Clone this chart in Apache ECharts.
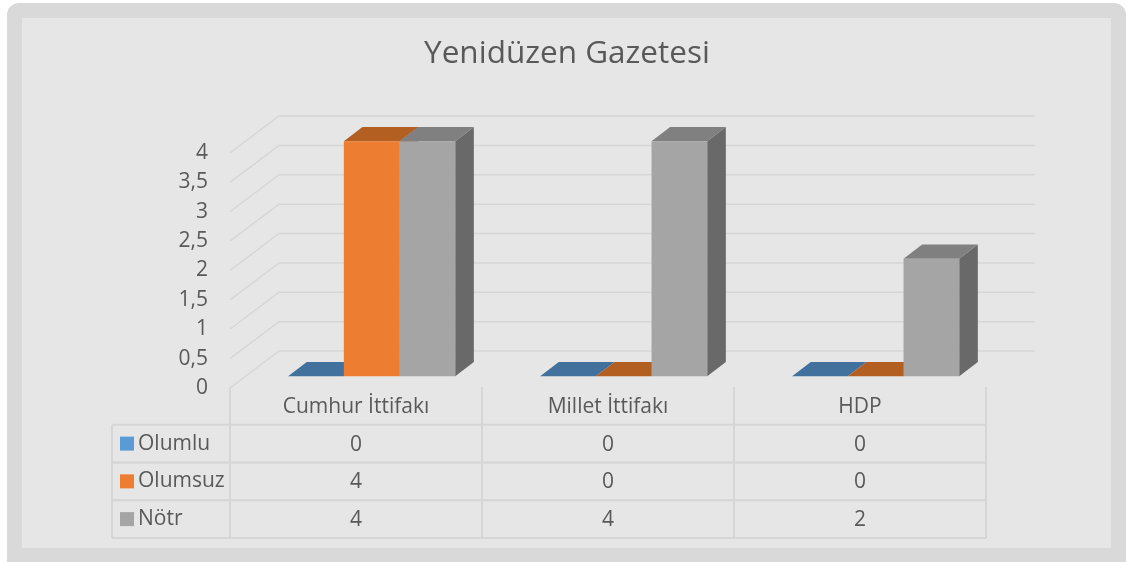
<!DOCTYPE html>
<html>
<head>
<meta charset="utf-8">
<script src="https://cdn.jsdelivr.net/npm/echarts@6/dist/echarts.min.js"></script>
<style>
    html, body { margin: 0; padding: 0; background: #fff; }
    #chart { width: 1127px; height: 562px; }
</style>
</head>
<body>
<div id="chart"></div>
<script>
// data
const categories = ['Cumhur İttifakı', 'Millet İttifakı', 'HDP']
const seriesNames = ['Olumlu', 'Olumsuz', 'Nötr']
const olumlu = [0, 0, 0]
const olumsuz = [4, 0, 0]
const notr = [4, 4, 2]
const yTicks = [0, 0.5, 1, 1.5, 2, 2.5, 3, 3.5, 4]

const seriesValues = [olumlu, olumsuz, notr]
const frontColors = ['#5b9bd5', '#ed7d31', '#a5a5a5']
const topColors = ['#41719c', '#b45f22', '#808080']
const sideColors = ['#3f6f99', '#a95a20', '#696969']

const FONT = '"Open Sans", sans-serif'
const FS = 21
const TEXT = '#595959'
const LINE = '#d6d6d6'
const DEPTH = [49, -37]          // floor depth, front -> back wall
const BAR_FRONT = 0.32           // bars sit in the middle of the depth
const BAR_BACK = 0.70
const BAR_RATIO = 0.221          // bar width / category band
const LEGEND_W = 118             // width of the legend column in the table

// 3d bars, drawn category by category so the right bar hides the left one's side
const barData = []
categories.forEach((c, ci) => {
    seriesValues.forEach((vals, si) => {
        barData.push([ci, si, vals[ci]])
    })
})

const tableData = []
for (let r = 0; r <= seriesNames.length; r++) {
    for (let c = 0; c < categories.length; c++) {
        tableData.push([c, r])
    }
}

function renderBar (params, api) {
    const ci = api.value(0)
    const si = api.value(1)
    const v = api.value(2)
    const base = api.coord([ci, 0])
    const top = api.coord([ci, v])
    const w = api.size([1, 0])[0] * BAR_RATIO
    const ox = DEPTH[0] * BAR_FRONT
    const oy = DEPTH[1] * BAR_FRONT
    const dx = DEPTH[0] * (BAR_BACK - BAR_FRONT)
    const dy = DEPTH[1] * (BAR_BACK - BAR_FRONT)
    const x0 = base[0] - 1.5 * w + si * w + ox
    const x1 = x0 + w
    const yb = base[1] + oy
    const yt = top[1] + oy
    return {
        type: 'group',
        children: [
            {
                type: 'polygon',
                shape: { points: [[x1, yt], [x1 + dx, yt + dy], [x1 + dx, yb + dy], [x1, yb]] },
                style: { fill: sideColors[si] }
            },
            {
                type: 'polygon',
                shape: { points: [[x0, yt], [x0 + dx, yt + dy], [x1 + dx, yt + dy], [x1, yt]] },
                style: { fill: topColors[si] }
            },
            {
                type: 'rect',
                shape: { x: x0, y: yt, width: w, height: yb - yt },
                style: { fill: frontColors[si] }
            }
        ]
    }
}

function renderGridLine (params, api) {
    const cs = params.coordSys
    const y = api.coord([0, api.value(1)])[1]
    return {
        type: 'polyline',
        shape: {
            points: [[cs.x, y], [cs.x + DEPTH[0], y + DEPTH[1]], [cs.x + cs.width + DEPTH[0], y + DEPTH[1]]]
        },
        style: { stroke: LINE, lineWidth: 1.5, fill: null }
    }
}

function renderCell (params, api) {
    const c = api.value(0)
    const r = api.value(1)
    const center = api.coord([c, r])
    const size = api.size([1, 1])
    const l = center[0] - size[0] / 2
    const rr = center[0] + size[0] / 2
    const t = center[1] - size[1] / 2
    const b = center[1] + size[1] / 2
    const txt = r === 0 ? categories[c] : String(seriesValues[r - 1][c])
    const lineStyle = { stroke: LINE, lineWidth: 2 }
    const children = [
        { type: 'line', shape: { x1: l, y1: t, x2: l, y2: b }, style: lineStyle },
        { type: 'line', shape: { x1: rr, y1: t, x2: rr, y2: b }, style: lineStyle },
        {
            type: 'text',
            style: {
                x: center[0], y: center[1] + 1, text: txt,
                align: 'center', verticalAlign: 'middle',
                fill: TEXT, font: FS + 'px ' + FONT
            }
        }
    ]
    if (r > 0) {
        const xs = c === 0 ? l - LEGEND_W : l
        children.push({ type: 'line', shape: { x1: xs, y1: t, x2: rr, y2: t }, style: lineStyle })
        children.push({ type: 'line', shape: { x1: xs, y1: b, x2: rr, y2: b }, style: lineStyle })
        if (c === 0) {
            children.push({ type: 'line', shape: { x1: xs, y1: t, x2: xs, y2: b }, style: lineStyle })
        }
    }
    return { type: 'group', children: children }
}

const chart = echarts.init(document.getElementById('chart'))
chart.setOption({
    animation: false,
    textStyle: { fontFamily: FONT },
    graphic: [
        {
            type: 'rect', z: -10,
            shape: { x: 7, y: 3, width: 1119, height: 580, r: 12 },
            style: { fill: '#d9d9d9' }
        },
        {
            type: 'rect', z: -9,
            shape: { x: 22, y: 18, width: 1089, height: 530 },
            style: { fill: '#e6e6e6' }
        }
    ],
    title: {
        text: 'Yenidüzen Gazetesi',
        left: 562,
        top: 33,
        textAlign: 'center',
        textStyle: { fontSize: 31.5, fontWeight: 'normal', color: TEXT, fontFamily: FONT }
    },
    grid: [
        { left: 230, right: 141, top: 153, bottom: 174 },
        { left: 230, right: 141, top: 387, bottom: 24 }
    ],
    xAxis: [
        {
            type: 'category', gridIndex: 0, data: categories,
            axisLine: { show: false }, axisTick: { show: false },
            axisLabel: { show: false }, splitLine: { show: false }
        },
        {
            type: 'category', gridIndex: 1, data: categories,
            axisLine: { show: false }, axisTick: { show: false },
            axisLabel: { show: false }, splitLine: { show: false }
        }
    ],
    yAxis: [
        {
            type: 'value', gridIndex: 0, min: 0, max: 4, interval: 0.5,
            axisLine: { show: false }, axisTick: { show: false },
            splitLine: { show: false },
            axisLabel: {
                margin: 22, fontSize: FS, color: TEXT, fontFamily: FONT,
                formatter: v => String(v).replace('.', ',')
            }
        },
        {
            type: 'category', gridIndex: 1, inverse: true,
            data: [''].concat(seriesNames),
            axisLine: { show: false }, axisTick: { show: false },
            splitLine: { show: false },
            axisLabel: {
                margin: 110, align: 'left', fontSize: FS, color: TEXT, fontFamily: FONT,
                formatter: (v, i) => i === 0 ? '' : '{sq' + i + '|}{name|' + v + '}',
                rich: {
                    sq1: { width: 14, height: 14, backgroundColor: frontColors[0] },
                    sq2: { width: 14, height: 14, backgroundColor: frontColors[1] },
                    sq3: { width: 14, height: 14, backgroundColor: frontColors[2] },
                    name: { fontSize: FS, color: TEXT, fontFamily: FONT, padding: [0, 0, 0, 4] }
                }
            }
        }
    ],
    series: [
        {
            name: 'grid',
            type: 'custom',
            xAxisIndex: 0, yAxisIndex: 0,
            z: 1,
            silent: true,
            data: yTicks.map(v => [0, v]),
            encode: { x: 0, y: 1 },
            renderItem: renderGridLine
        },
        {
            name: 'bars',
            type: 'custom',
            xAxisIndex: 0, yAxisIndex: 0,
            z: 3,
            data: barData,
            encode: { x: 0, y: 2 },
            renderItem: renderBar
        },
        {
            name: 'table',
            type: 'custom',
            xAxisIndex: 1, yAxisIndex: 1,
            z: 2,
            silent: true,
            data: tableData,
            encode: { x: 0, y: 1 },
            renderItem: renderCell
        }
    ]
})
</script>
</body>
</html>
